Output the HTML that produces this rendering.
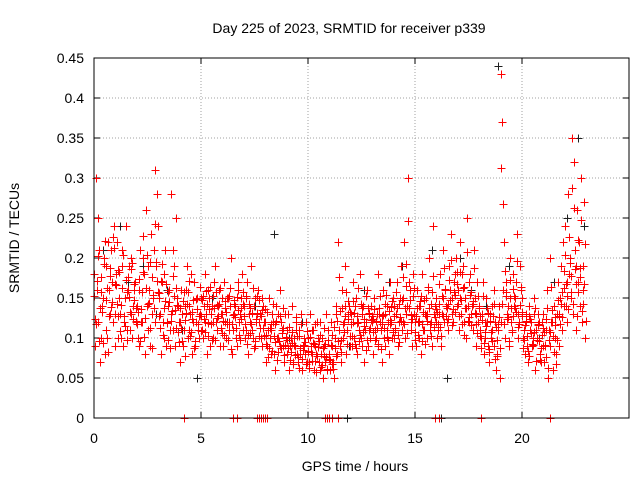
<!DOCTYPE html>
<html><head><meta charset="utf-8">
<style>
html,body{margin:0;padding:0;background:#fff;}
svg{display:block;font-family:"Liberation Sans",sans-serif;}
</style></head>
<body>
<svg id="chart" width="640" height="480" viewBox="0 0 640 480" xmlns="http://www.w3.org/2000/svg">
<rect x="0" y="0" width="640" height="480" fill="#fff"/>
<text x="349" y="33" font-size="14" text-anchor="middle" fill="#000">Day 225 of 2023, SRMTID for receiver p339</text>
<text x="355" y="471" font-size="14" text-anchor="middle" fill="#000">GPS time / hours</text>
<text x="19" y="238" font-size="14" text-anchor="middle" fill="#000" transform="rotate(-90 19 238)">SRMTID / TECUs</text>
<g id="grid"></g>
<g id="ticks"></g>
<g id="points"></g>
<rect x="94" y="58" width="535" height="360" fill="none" stroke="#000" stroke-width="1"/>
</svg>
<script>
const xTicks=[0,5,10,15,20];
const yTicks=[0,0.05,0.1,0.15,0.2,0.25,0.3,0.35,0.4,0.45];
const yTickLabels=["0","0.05","0.1","0.15","0.2","0.25","0.3","0.35","0.4","0.45"];
const hourOffsets=[0,.08,.17,.25,.33,.42,.5,.58,.67,.75,.83,.92];
const redHours=[0,1,2,3,4,5,6,7,8,9,10,11,12,13,14,15,16,17,18,19,20,21,22];
const redA=[
.18,.30,.12,.21,.10,.15,.08,.19,.22,.13,.17,.24,
.13,.22,.15,.10,.19,.12,.24,.16,.11,.20,.14,.17,
.14,.09,.21,.12,.18,.26,.11,.16,.23,.15,.31,.19,
.24,.13,.17,.10,.21,.12,.16,.28,.11,.19,.25,.14,
.12,.16,.09,.14,.19,.11,.13,.08,.17,.12,.15,.10,
.15,.10,.18,.13,.16,.09,.14,.12,.19,.11,.16,.13,
.13,.17,.10,.15,.12,.20,.11,.14,.09,.16,.13,.18,
.14,.11,.17,.13,.19,.10,.15,.12,.16,.13,.09,.14,
.12,.09,.15,.11,.13,.08,.14,.10,.16,.12,.09,.13,
.11,.13,.09,.14,.10,.12,.08,.11,.13,.09,.10,.12,
.10,.13,.08,.11,.09,.12,.07,.06,.10,.09,.13,.11,
.08,.12,.07,.10,.14,.22,.09,.16,.12,.19,.11,.14,
.13,.17,.10,.15,.12,.18,.09,.14,.11,.16,.13,.10,
.12,.15,.10,.18,.13,.11,.16,.09,.14,.12,.17,.10,
.14,.11,.17,.12,.19,.15,.22,.13,.30,.16,.11,.18,
.12,.16,.10,.14,.18,.11,.15,.13,.20,.12,.24,.14,
.15,.11,.18,.13,.21,.16,.12,.19,.23,.15,.17,.20,
.16,.22,.13,.19,.15,.25,.12,.18,.14,.21,.13,.17,
.14,.10,.17,.12,.15,.09,.13,.11,.16,.12,.08,.14,
.43,.37,.22,.17,.14,.20,.12,.18,.15,.23,.13,.19,
.15,.11,.13,.09,.14,.12,.10,.15,.11,.13,.08,.12,
.13,.09,.16,.11,.20,.12,.14,.08,.17,.13,.19,.22,
.24,.17,.28,.20,.35,.32,.19,.26,.22,.30,.16,.27];
const redB=[
.09,.16,.25,.07,.14,.20,.11,.10,.16,.21,.12,.09,
.18,.10,.13,.21,.09,.15,.11,.19,.13,.10,.16,.12,
.10,.16,.12,.20,.08,.14,.19,.09,.13,.21,.12,.28,
.15,.08,.12,.18,.09,.14,.11,.13,.21,.09,.15,.12,
.07,.13,.11,.16,.10,.14,.18,.12,.09,.15,.11,.13,
.11,.14,.12,.08,.15,.13,.10,.17,.12,.14,.09,.15,
.09,.12,.15,.11,.14,.08,.13,.10,.17,.12,.15,.11,
.10,.15,.08,.12,.11,.14,.09,.13,.12,.10,.15,.12,
.07,.11,.10,.08,.12,.06,.10,.13,.09,.11,.07,.10,
.08,.06,.10,.07,.09,.11,.07,.08,.06,.09,.08,.07,
.07,.09,.11,.06,.08,.10,.12,.08,.05,.07,.06,.08,
.06,.09,.05,.13,.08,.11,.07,.10,.14,.08,.13,.09,
.09,.12,.14,.08,.11,.10,.13,.07,.12,.09,.11,.14,
.08,.11,.13,.09,.12,.07,.10,.13,.11,.08,.12,.15,
.10,.13,.09,.15,.11,.12,.10,.14,.17,.12,.09,.13,
.09,.12,.14,.08,.11,.13,.10,.16,.11,.09,.13,.12,
.10,.13,.09,.15,.12,.14,.11,.16,.13,.12,.18,.14,
.11,.15,.18,.12,.10,.14,.17,.13,.11,.15,.09,.12,
.11,.13,.08,.10,.12,.07,.10,.14,.09,.06,.11,.05,
.12,.16,.10,.13,.09,.15,.11,.14,.17,.10,.12,.16,
.10,.08,.12,.07,.11,.09,.13,.06,.10,.12,.07,.09,
.07,.11,.05,.09,.12,.06,.10,.13,.09,.15,.11,.14,
.14,.12,.18,.15,.13,.21,.11,.17,.14,.12,.19,.10];
const redC=[
.152,.118,.203,.137,.176,.094,.221,.163,.128,.187,.145,.213,
.166,.127,.183,.141,.204,.115,.158,.176,.132,.194,.148,.121,
.118,.174,.136,.227,.101,.163,.142,.195,.087,.154,.243,.171,
.156,.113,.192,.138,.167,.097,.145,.121,.178,.135,.162,.108,
.137,.096,.158,.122,.143,.171,.107,.132,.088,.149,.118,.164,
.128,.153,.107,.142,.119,.164,.098,.137,.158,.125,.143,.112,
.121,.146,.132,.097,.163,.118,.142,.126,.151,.104,.138,.157,
.127,.152,.104,.138,.117,.162,.096,.131,.148,.113,.135,.102,
.104,.132,.088,.117,.142,.095,.121,.083,.127,.106,.138,.091,
.098,.114,.083,.107,.091,.126,.076,.102,.118,.085,.095,.109,
.084,.101,.071,.093,.118,.078,.096,.064,.087,.112,.076,.098,
.073,.104,.061,.088,.121,.176,.097,.138,.108,.157,.124,.132,
.118,.146,.092,.127,.163,.104,.138,.115,.152,.098,.131,.122,
.108,.136,.121,.093,.152,.117,.129,.142,.101,.134,.118,.146,
.127,.158,.104,.143,.121,.176,.138,.192,.246,.147,.124,.163,
.108,.138,.121,.152,.096,.147,.127,.164,.118,.142,.178,.126,
.132,.168,.114,.152,.187,.127,.143,.172,.198,.136,.154,.183,
.142,.183,.118,.164,.137,.208,.126,.157,.142,.188,.118,.152,
.127,.088,.152,.107,.138,.082,.121,.096,.143,.114,.078,.126,
.312,.268,.184,.152,.126,.173,.108,.161,.137,.196,.117,.164,
.132,.098,.121,.084,.127,.106,.091,.137,.097,.118,.073,.104,
.108,.076,.138,.097,.164,.102,.126,.068,.147,.118,.158,.184,
.204,.152,.226,.178,.287,.263,.168,.223,.188,.248,.142,.218];
const redD=[
.124,.171,.096,.158,.133,.192,.147,.082,.178,.139,.226,.167,
.142,.185,.109,.163,.128,.172,.097,.151,.186,.124,.168,.138,
.133,.096,.158,.183,.125,.204,.144,.112,.176,.138,.195,.157,
.128,.171,.104,.146,.119,.158,.087,.134,.152,.113,.141,.095,
.113,.146,.078,.131,.158,.102,.124,.147,.096,.136,.127,.109,
.147,.124,.159,.103,.136,.118,.152,.097,.141,.128,.162,.106,
.104,.137,.118,.152,.086,.129,.147,.113,.135,.098,.124,.143,
.118,.093,.142,.106,.131,.087,.124,.152,.103,.127,.112,.136,
.092,.076,.113,.084,.103,.118,.072,.096,.087,.112,.079,.101,
.087,.072,.094,.068,.079,.102,.063,.088,.074,.091,.067,.083,
.063,.082,.094,.071,.057,.089,.104,.066,.078,.092,.061,.074,
.091,.067,.114,.078,.096,.134,.082,.118,.127,.093,.146,.103,
.102,.131,.087,.119,.096,.142,.108,.124,.085,.137,.113,.127,
.124,.098,.113,.137,.086,.128,.112,.154,.097,.123,.139,.108,
.112,.137,.095,.126,.148,.118,.165,.106,.138,.129,.152,.097,
.128,.104,.146,.117,.133,.092,.121,.138,.103,.157,.114,.136,
.118,.142,.103,.128,.161,.137,.124,.147,.116,.158,.132,.167,
.128,.147,.163,.104,.138,.121,.154,.116,.146,.131,.106,.137,
.102,.123,.094,.115,.131,.086,.108,.127,.074,.097,.118,.087,
.143,.118,.158,.124,.096,.137,.127,.152,.132,.114,.141,.128,
.087,.116,.102,.078,.124,.093,.108,.071,.116,.096,.087,.112,
.091,.124,.062,.107,.135,.083,.116,.097,.128,.142,.126,.163,
.167,.136,.194,.158,.142,.186,.127,.158,.176,.134,.168,.121];
const blackT=[0.1,0.4,1.2,1.6,2.3,2.9,3.4,4.1,4.8,5.5,6.2,6.9,7.5,8.4,9.1,9.7,11.9,12.6,13.3,13.8,14.4,15.2,15.8,16.5,17.1,17.6,18.3,18.9,19.4,20.2,20.8,21.5,22.1,22.6,22.9];
const blackV=[0.30,0.21,0.24,0.17,0.19,0.13,0.16,0.11,0.05,0.15,0.12,0.18,0.14,0.23,0.10,0.12,0.09,0.16,0.13,0.17,0.19,0.12,0.21,0.05,0.20,0.16,0.14,0.44,0.19,0.13,0.10,0.17,0.25,0.35,0.24];
const zeroT=[4.2,6.5,6.7,7.6,7.7,7.8,7.9,8.0,8.1,10.8,10.9,11.0,11.1,11.4,15.95,16.1,18.1,21.3];
const zeroBlackT=[11.8,16.2];

const X0=94,X1=629,Y0=418,Y1=58,XMAX=25,YMAX=0.45;
function sx(t){return X0+(X1-X0)*t/XMAX;}
function sy(v){return Y0-(Y0-Y1)*v/YMAX;}
const NS="http://www.w3.org/2000/svg";
const grid=document.getElementById('grid'),ticks=document.getElementById('ticks'),pts=document.getElementById('points');
function mk(tag,attrs,parent){const e=document.createElementNS(NS,tag);for(const k in attrs)e.setAttribute(k,attrs[k]);parent.appendChild(e);return e;}
yTicks.forEach((v,i)=>{
  const y=sy(v);
  if(i>0&&i<yTicks.length-1){const g=mk('line',{x1:X0,x2:X1,y1:y,y2:y,stroke:'#a0a0a0','stroke-dasharray':'1,2','stroke-width':1},grid);
  
  }
  mk('line',{x1:X0,x2:X0+6,y1:y,y2:y,stroke:'#000'},ticks);
  mk('line',{x1:X1,x2:X1-6,y1:y,y2:y,stroke:'#000'},ticks);
  const t=mk('text',{x:X0-10,y:y+5,'font-size':14,'text-anchor':'end'},ticks);
  t.textContent=yTickLabels[i];
  
  
});
xTicks.forEach(v=>{
  const x=sx(v);
  if(v>0){const g=mk('line',{x1:x,x2:x,y1:Y0,y2:Y1,stroke:'#a0a0a0','stroke-dasharray':'1,2','stroke-width':1},grid);
  
  }
  mk('line',{x1:x,x2:x,y1:Y0,y2:Y0-6,stroke:'#000'},ticks);
  mk('line',{x1:x,x2:x,y1:Y1,y2:Y1+6,stroke:'#000'},ticks);
  const t=mk('text',{x:x,y:Y0+25,'font-size':14,'text-anchor':'middle'},ticks);
  t.textContent=String(v);
  
  
});
function plus(t,v,color,name){
  const x=Math.round(sx(t))+0.5,y=Math.round(sy(v))+0.5;
  const p=mk('path',{d:`M${x-4} ${y}H${x+4}M${x} ${y-4}V${y+4}`,stroke:color,'stroke-width':1,fill:'none'},pts);
  
  
}
blackT.forEach((t,i)=>plus(t,blackV[i],'#202020','black-point'));
zeroBlackT.forEach(t=>plus(t,0,'#202020','black-zero-point'));
redHours.forEach((h,hi)=>{
  hourOffsets.forEach((o,k)=>{
    const idx=hi*hourOffsets.length+k;
    plus(h+o,redA[idx],'#ff0000','red-point');
    plus(h+o+0.02,redC[idx],'#ff0000','red-point');
    plus(h+o+0.04,redB[idx],'#ff0000','red-point');
    plus(h+o+0.06,redD[idx],'#ff0000','red-point');
  });
});
zeroT.forEach(t=>plus(t,0,'#ff0000','red-zero-point'));
</script>
</body></html>
